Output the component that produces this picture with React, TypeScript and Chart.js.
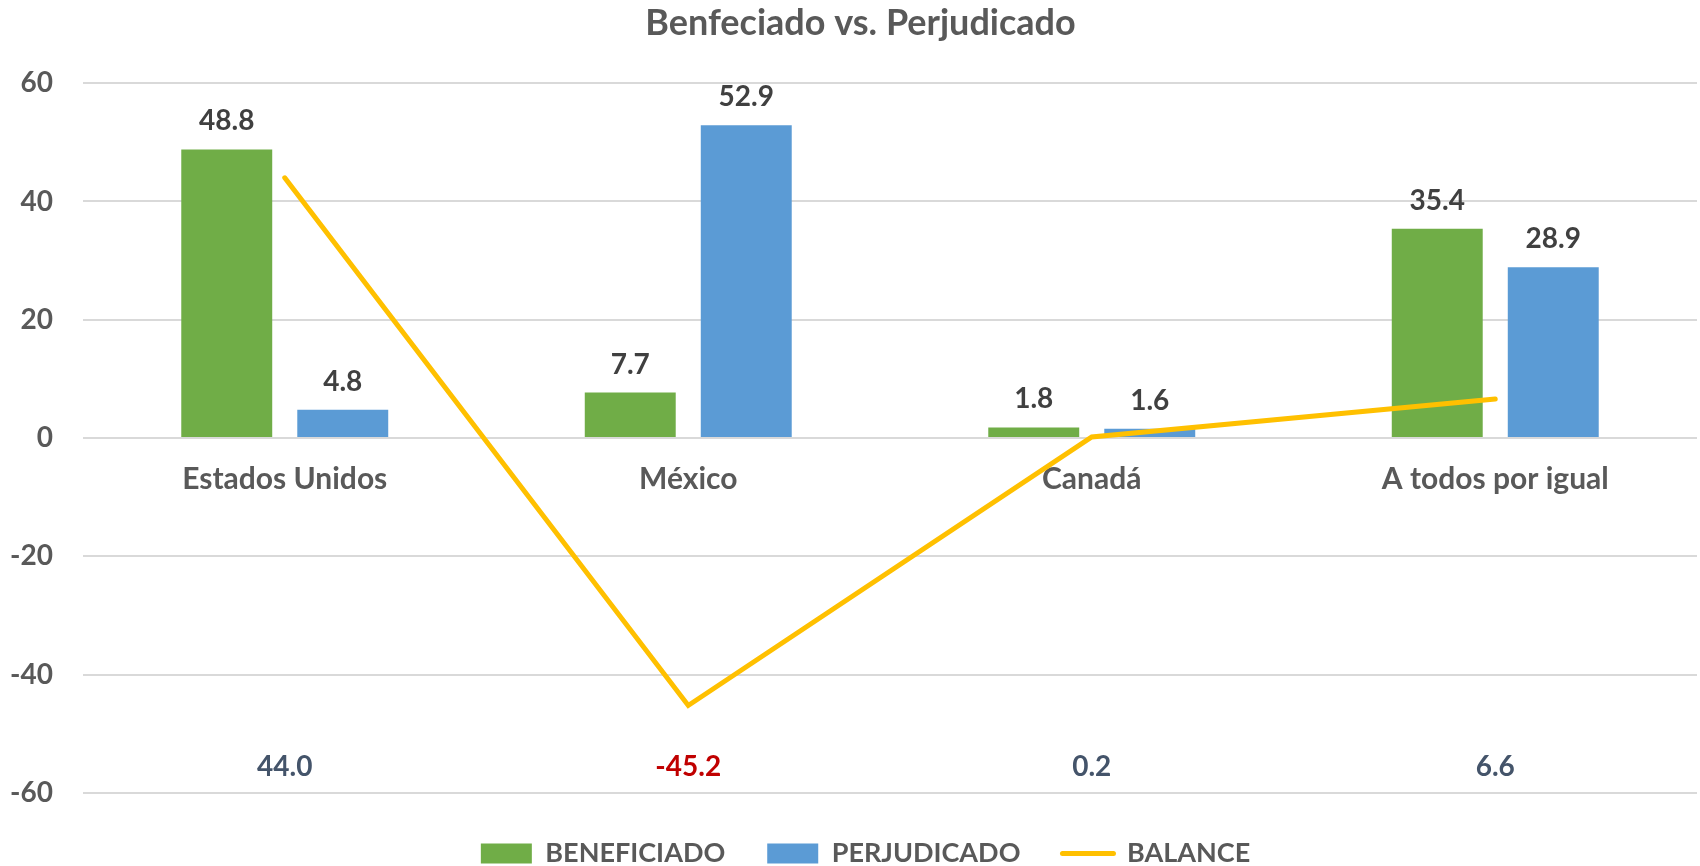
import React, { useEffect, useRef } from 'react';
import { Chart, registerables } from 'chart.js';

Chart.register(...registerables);

const categories = ['Estados Unidos', 'México', 'Canadá', 'A todos por igual'];
const beneficiado = [48.8, 7.7, 1.8, 35.4];
const perjudicado = [4.8, 52.9, 1.6, 28.9];
const balance = [44.0, -45.2, 0.2, 6.6];
const yTicks = [-60, -40, -20, 0, 20, 40, 60];
const seriesNames = ['BENEFICIADO', 'PERJUDICADO', 'BALANCE'];
const titleText = 'Benfeciado vs. Perjudicado';

const FONT = 'Lato, "Open Sans", "DejaVu Sans", sans-serif';
const GREEN = '#70AD47';
const BLUE = '#5B9BD5';
const GOLD = '#FFC000';
const TEXT = '#595959';

const labelPlugin = {
  id: 'valueLabels',
  afterDatasetsDraw(chart: any) {
    const ctx = chart.ctx;
    ctx.save();
    ctx.font = `bold 28px ${FONT}`;
    ctx.textAlign = 'center';
    ctx.textBaseline = 'middle';
    [0, 1].forEach((di) => {
      const meta = chart.getDatasetMeta(di);
      meta.data.forEach((bar: any, i: number) => {
        const v = chart.data.datasets[di].data[i] as number;
        ctx.fillStyle = '#404040';
        ctx.fillText(v.toFixed(1), bar.x, bar.y - 28);
      });
    });
    const lineMeta = chart.getDatasetMeta(2);
    const y = chart.scales.y.getPixelForValue(-55.6);
    lineMeta.data.forEach((pt: any, i: number) => {
      const v = balance[i];
      ctx.fillStyle = v < 0 ? '#C00000' : '#44546A';
      ctx.fillText(v.toFixed(1), pt.x, y);
    });
    ctx.restore();
  },
};

const shiftPlugin = {
  id: 'shiftBlocks',
  afterLayout(chart: any) {
    const lg = chart.legend;
    if (lg) {
      lg.left += 17;
      lg.right += 17;
      lg.top += 5;
      lg.bottom += 5;
    }
    const t = chart.titleBlock;
    if (t) {
      t.left += 12;
      t.right += 12;
    }
  },
};

export default function App() {
  const ref = useRef<HTMLCanvasElement>(null);
  useEffect(() => {
    const chart = new Chart(ref.current as HTMLCanvasElement, {
      data: {
        labels: categories,
        datasets: [
          {
            type: 'bar',
            label: seriesNames[0],
            data: beneficiado,
            backgroundColor: GREEN,
            categoryPercentage: 0.575,
            barPercentage: 0.784,
            order: 1,
          },
          {
            type: 'bar',
            label: seriesNames[1],
            data: perjudicado,
            backgroundColor: BLUE,
            categoryPercentage: 0.575,
            barPercentage: 0.784,
            order: 1,
          },
          {
            type: 'line',
            label: seriesNames[2],
            data: balance,
            borderColor: GOLD,
            backgroundColor: GOLD,
            borderWidth: 5,
            pointRadius: 0,
            borderCapStyle: 'round',
            borderJoinStyle: 'miter',
            tension: 0,
            order: 0,
          },
        ] as any,
      },
      options: {
        responsive: false,
        animation: false,
        devicePixelRatio: 1,
        events: [],
        layout: { padding: { left: 0, right: 3, top: 0, bottom: -6 } },
        plugins: {
          tooltip: { enabled: false },
          title: {
            display: true,
            text: titleText,
            color: TEXT,
            font: { family: FONT, size: 36, weight: 'bold' },
            padding: { top: 2, bottom: 38 },
          },
          legend: {
            position: 'bottom',
            labels: {
              usePointStyle: true,
              pointStyleWidth: 51,
              boxWidth: 51,
              boxHeight: 20,
              padding: 42,
              color: TEXT,
              font: { family: FONT, size: 27, weight: 'bold' },
              generateLabels: () => [
                { text: seriesNames[0], fillStyle: GREEN, strokeStyle: GREEN, lineWidth: 0, pointStyle: 'rect', datasetIndex: 0, hidden: false, fontColor: TEXT },
                { text: seriesNames[1], fillStyle: BLUE, strokeStyle: BLUE, lineWidth: 0, pointStyle: 'rect', datasetIndex: 1, hidden: false, fontColor: TEXT },
                { text: seriesNames[2], fillStyle: GOLD, strokeStyle: GOLD, lineWidth: 5, lineCap: 'round', pointStyle: 'line', datasetIndex: 2, hidden: false, fontColor: TEXT },
              ] as any,
            },
          },
        },
        scales: {
          x: {
            type: 'category',
            position: { y: 0 } as any,
            grid: { display: false, drawTicks: false },
            border: { display: false },
            ticks: {
              color: TEXT,
              font: { family: FONT, size: 30, weight: 'bold' },
              padding: 23,
              maxRotation: 0,
            },
            afterFit: (s: any) => {
              s.height = 0;
            },
          },
          y: {
            type: 'linear',
            min: -60,
            max: 60,
            afterBuildTicks: (s: any) => {
              s.ticks = yTicks.map((v) => ({ value: v }));
            },
            ticks: {
              color: TEXT,
              font: { family: FONT, size: 28, weight: 'bold' },
              padding: 30,
            },
            grid: { color: '#D9D9D9', lineWidth: 2, drawTicks: false },
            border: { display: false },
            afterFit: (s: any) => {
              s.width = 83;
            },
          },
        },
      },
      plugins: [labelPlugin, shiftPlugin],
    });
    return () => chart.destroy();
  }, []);
  return (
    <div style={{ position: 'fixed', left: 0, top: 0, width: 1700, height: 866, background: '#fff' }}>
      <canvas ref={ref} width={1700} height={866} style={{ display: 'block' }} />
    </div>
  );
}
